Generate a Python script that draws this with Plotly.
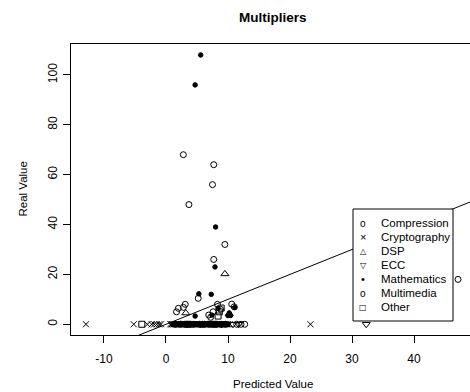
import plotly.graph_objects as go

# ---------------- data ----------------
categories = ["Compression", "Cryptography", "DSP", "ECC", "Mathematics", "Multimedia", "Other"]

compression_x = [2.8, 7.7, 7.5, 3.7, 9.5, 7.7, 5.2, 3.1, 8.3, 10.6, 11.0, 2.8, 2.0, 7.6, 6.9, 1.7,
                 12.1, 12.7, 1.5, 3.0, 4.4, 6.2, 8.9, 9.6, 2.3, 5.4, 7.0]
compression_y = [68, 64, 56, 48, 32, 26, 10.4, 8, 8, 8.1, 7, 6.8, 6.4, 5, 3.7, 5,
                 0, 0, 0, 0, 0, 0, 0, 0, 0, 0, 0]

crypto_x = [-12.9, -5.2, -3.0, -2.3, -1.9, -1.5, -1.1, -0.8, 23.3, 10.3,
            0.7, 0.9, 1.0, 1.2, 1.3, 1.5, 1.6, 1.8, 1.9, 2.1, 2.2, 2.4, 2.5, 2.7,
            2.8, 3.0, 3.1, 3.3, 3.4, 3.6, 3.7, 3.9, 4.0, 4.2, 4.3, 4.5, 4.6, 4.8,
            4.9, 5.1, 5.2, 5.4, 5.5, 5.7, 5.8, 6.0, 6.1, 6.3, 6.4, 6.6, 6.7, 6.9,
            7.0, 7.2, 7.3, 7.5, 7.6, 7.8, 7.9, 8.1, 8.2, 8.4, 8.5, 8.7, 8.8, 9.0,
            9.1, 9.3, 9.4, 9.6, 9.7, 9.9, 10.0]
crypto_y = [0] * len(crypto_x)

dsp_x = [9.5, 3.2, 10.2, 2.4, 6.8]
dsp_y = [20.2, 4.5, 4.2, 0, 0]

ecc_x = [32.3, 11.7, 10.8, 5.6, 9.0]
ecc_y = [0, 0, 0, 0, 0]

math_x = [5.6, 4.7, 8.0, 7.9, 5.3, 7.3, 8.4, 11.1, 4.7, 10.0, 10.4, 10.2, 7.4,
          1.2, 1.5, 1.8, 2.2, 2.6, 2.9, 3.3, 3.6, 3.9, 4.2, 4.5, 4.8, 5.0, 5.4, 5.7,
          6.0, 6.3, 6.6, 6.9, 7.2, 7.5, 7.8, 8.1, 8.4, 8.7, 9.0, 9.3, 9.6, 9.9]
math_y = [108, 96, 39, 23, 12.2, 12, 6.4, 6.7, 3.3, 3.5, 3.5, 4.5, 3.7,
          0, 0, 0, 0, 0, 0, 0, 0, 0, 0, 0, 0, 0, 0, 0,
          0, 0, 0, 0, 0, 0, 0, 0, 0, 0, 0, 0, 0, 0]

multimedia_x = [47.1, 8.8, 7.2, 3.4, 5.9, 11.4]
multimedia_y = [18, 6.0, 2.8, 0, 0, 0]

other_x = [-3.9, 8.6, 8.4, 8.9, 3.6, 7.8]
other_y = [0, 5, 3.3, 6.5, 0, 0]

x_ticks = [-10, 0, 10, 20, 30, 40]
y_ticks = [0, 20, 40, 60, 80, 100]
x_range = [-15.32, 49.03]
y_range = [-4.3, 112.4]

FONT = "Liberation Sans, Arial, Helvetica, sans-serif"

# name, x, y, plotly symbol, size, legend glyph, glyph font, glyph size
series = [
    ("Compression", compression_x, compression_y, "circle-open", 6, "o", FONT, 10),
    ("Cryptography", crypto_x, crypto_y, "x-thin-open", 6, "×", FONT, 11),
    ("DSP", dsp_x, dsp_y, "triangle-up-open", 7, "△", "DejaVu Sans", 8),
    ("ECC", ecc_x, ecc_y, "triangle-down-open", 7, "▽", "DejaVu Sans", 8),
    ("Mathematics", math_x, math_y, "circle", 4.5, "•", FONT, 11),
    ("Multimedia", multimedia_x, multimedia_y, "circle-open", 6, "o", FONT, 10),
    ("Other", other_x, other_y, "square-open", 6, "□", "DejaVu Sans", 8),
]

fig = go.Figure()

# identity reference line y = x across the full x range
fig.add_trace(go.Scatter(x=x_range, y=x_range, mode="lines",
                         line=dict(color="black", width=1), showlegend=False,
                         hoverinfo="skip"))

for name, xs, ys, sym, size, _, _, _ in series:
    fig.add_trace(go.Scatter(
        x=xs, y=ys, mode="markers", name=name, showlegend=False,
        marker=dict(symbol=sym, size=size, color="black",
                    line=dict(color="black", width=1)),
    ))

W, H = 470, 392
L, R, T, B = 71, 0, 44, 57
pw, ph = W - L - R, H - T - B


def px(xp):
    return (xp - L) / pw


def py(yp):
    return (H - B - yp) / ph


shapes = [dict(type="rect", xref="paper", yref="paper",
               x0=px(353), x1=px(453), y0=py(321), y1=py(209),
               line=dict(color="black", width=1), fillcolor="white", layer="above")]

annotations = [
    dict(text="<b>Multipliers</b>", x=px(272.5), y=py(17), xref="paper", yref="paper",
         showarrow=False, xanchor="center", yanchor="middle",
         font=dict(family=FONT, size=13.5, color="black")),
    dict(text="Predicted Value", x=px(272.5), y=py(384), xref="paper", yref="paper",
         showarrow=False, xanchor="center", yanchor="middle",
         font=dict(family=FONT, size=11.5, color="black")),
    dict(text="Real Value", x=px(22), y=py(189.5), xref="paper", yref="paper",
         showarrow=False, xanchor="center", yanchor="middle", textangle=-90,
         font=dict(family=FONT, size=11.5, color="black")),
]

row_y0, row_step = 223.3, 14
for i, (name, _, _, _, _, glyph, gfont, gsize) in enumerate(series):
    yy = row_y0 + i * row_step
    annotations.append(dict(text=glyph, x=px(363), y=py(yy), xref="paper", yref="paper",
                            showarrow=False, xanchor="center", yanchor="middle",
                            font=dict(family=gfont, size=gsize, color="black")))
    annotations.append(dict(text=name, x=px(379), y=py(yy), xref="paper", yref="paper",
                            showarrow=False, xanchor="left", yanchor="middle",
                            font=dict(family=FONT, size=11.5, color="black")))

fig.update_layout(
    width=W, height=H,
    margin=dict(l=L, r=R, t=T, b=B, pad=0),
    paper_bgcolor="white", plot_bgcolor="white",
    showlegend=False,
    shapes=shapes, annotations=annotations,
    xaxis=dict(range=x_range, tickvals=x_ticks, ticktext=[str(v) for v in x_ticks],
               showgrid=False, zeroline=False, showline=True, linecolor="black",
               linewidth=1, mirror=True, ticks="outside", ticklen=7, tickcolor="black",
               tickwidth=1, tickfont=dict(family=FONT, size=12, color="black"),
               ticklabelstandoff=6),
    yaxis=dict(range=y_range, tickvals=y_ticks, ticktext=[str(v) for v in y_ticks],
               showgrid=False, zeroline=False, showline=True, linecolor="black",
               linewidth=1, mirror=False, ticks="outside", ticklen=7, tickcolor="black",
               tickwidth=1, tickangle=-90, tickfont=dict(family=FONT, size=12, color="black"),
               ticklabelstandoff=1),
)

fig.write_html("out.html")
